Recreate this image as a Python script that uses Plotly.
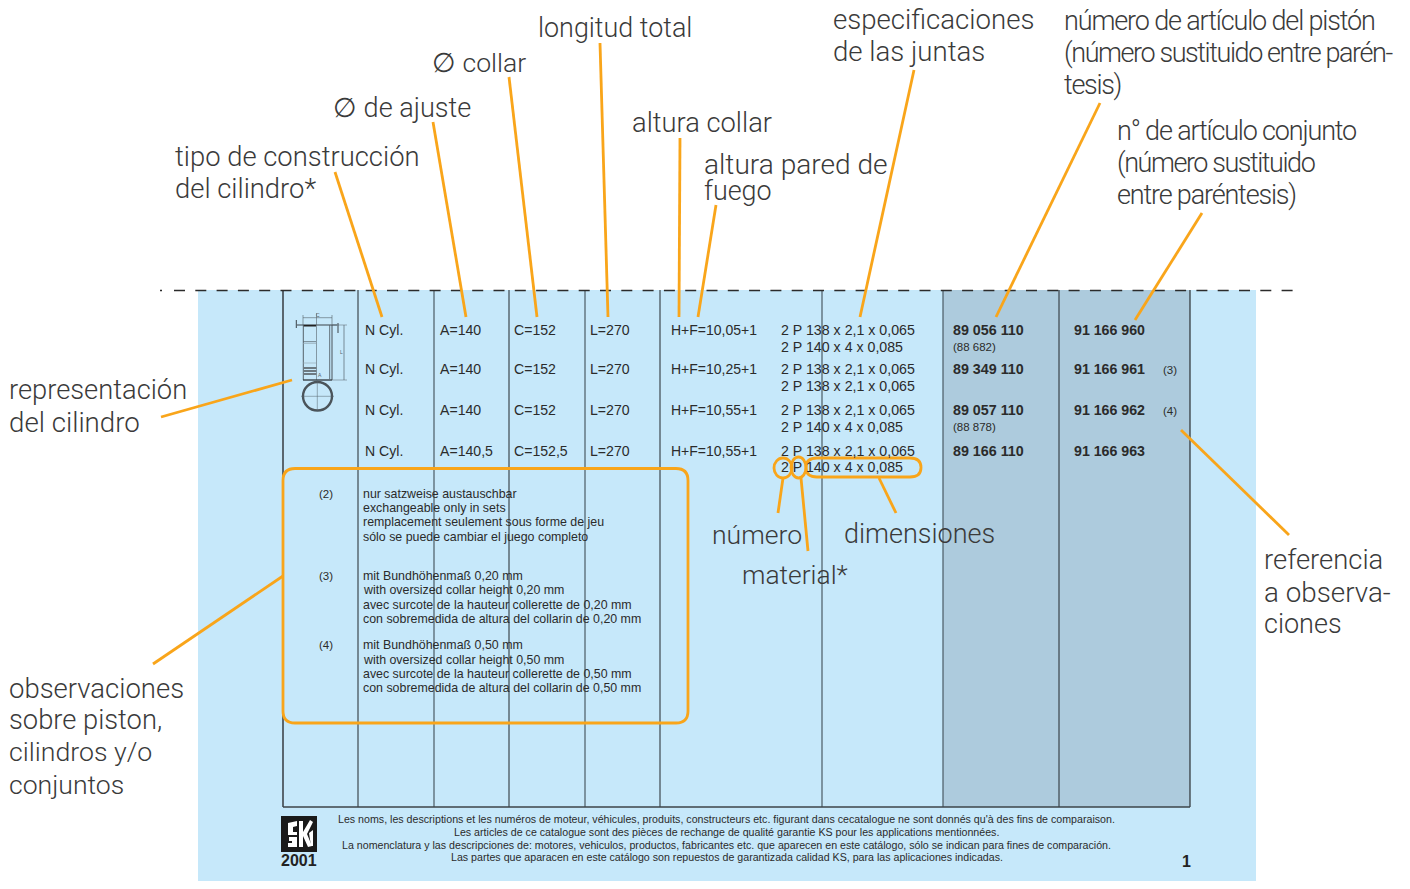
import plotly.graph_objects as go

# ---------- data ----------
cyl_type = ["N Cyl.", "N Cyl.", "N Cyl.", "N Cyl."]
adjust_d = ["A=140", "A=140", "A=140", "A=140,5"]
collar_d = ["C=152", "C=152", "C=152", "C=152,5"]
total_len = ["L=270", "L=270", "L=270", "L=270"]
heights = ["H+F=10,05+1", "H+F=10,25+1", "H+F=10,55+1", "H+F=10,55+1"]
seal_1 = ["2 P 138 x 2,1 x 0,065"] * 4
seal_2 = ["2 P 140 x 4 x 0,085", "2 P 138 x 2,1 x 0,065", "2 P 140 x 4 x 0,085", "2 P 140 x 4 x 0,085"]
piston_no = ["89 056 110", "89 349 110", "89 057 110", "89 166 110"]
piston_old = ["(88 682)", "", "(88 878)", ""]
set_no = ["91 166 960", "91 166 961", "91 166 962", "91 166 963"]
remark_ref = ["", "(3)", "(4)", ""]

note_marks = ["(2)", "(3)", "(4)"]
note_2 = ["nur satzweise austauschbar", "exchangeable only in sets",
          "remplacement seulement sous forme de jeu", "sólo se puede cambiar el juego completo"]
note_3 = ["mit Bundhöhenmaß 0,20 mm", "with oversized collar height 0,20 mm",
          "avec surcote de la hauteur collerette de 0,20 mm", "con sobremedida de altura del collarin de 0,20 mm"]
note_4 = ["mit Bundhöhenmaß 0,50 mm", "with oversized collar height 0,50 mm",
          "avec surcote de la hauteur collerette de 0,50 mm", "con sobremedida de altura del collarin de 0,50 mm"]
footer = [
    "Les noms, les descriptions et les numéros de moteur, véhicules, produits, constructeurs etc. figurant dans cecatalogue ne sont donnés qu'à des fins de comparaison.",
    "Les articles de ce catalogue sont des pièces de rechange de qualité garantie KS pour les applications mentionnées.",
    "La nomenclatura y las descripciones de: motores, vehiculos, productos, fabricantes etc. que aparecen en este catálogo, sólo se indican para fines de comparación.",
    "Las partes que aparacen en este catálogo son repuestos de garantizada calidad KS, para las aplicaciones indicadas.",
]
callout_text = [
    "tipo de construcción", "del cilindro*", "∅ de ajuste", "∅ collar", "longitud total",
    "altura collar", "altura pared de", "fuego", "especificaciones", "de las juntas",
    "número de artículo del pistón", "(número sustituido entre parén-", "tesis)",
    "n° de artículo conjunto", "(número sustituido", "entre paréntesis)",
    "representación", "del cilindro", "número", "material*", "dimensiones",
    "referencia", "a observa-", "ciones", "observaciones", "sobre piston,", "cilindros y/o", "conjuntos",
]

# ---------- layout of the labels and leaders (page pixels) ----------
callout_place = [
    (175, 157, 27.4), (175, 189, 27.4), (333, 108, 27.1), (432, 62, 26.6), (538, 28, 26.9),
    (632, 123, 27.3), (704, 164, 28.1), (704, 191, 26.9), (833, 19, 27.6), (833, 51, 27.6),
    (1064, 21, 27), (1064, 53, 27), (1064, 85, 27),
    (1117, 131, 27), (1117, 163, 27), (1117, 195, 27),
    (9, 390, 27.3), (9, 422, 27.7), (712, 534, 26.6), (742, 575, 26.4), (844, 534, 27),
    (1264, 560, 27.4), (1264, 592, 27.8), (1264, 624, 27), (9, 688, 27.5), (9, 720, 27.3),
    (9, 752, 26.7), (9, 784, 26.6),
]
tracking = {
    "número de artículo del pistón": -1.14, "(número sustituido entre parén-": -1.42, "tesis)": -1.3,
    "n° de artículo conjunto": -1.17, "(número sustituido": -1.45, "entre paréntesis)": -1.17,
}
leaders = [
    (335, 172, 382, 317), (433, 122, 466, 317), (509, 77, 537, 317), (600, 43, 608, 317),
    (680, 138, 679, 317), (716, 205, 698, 317), (914, 70, 860, 317), (1100, 103, 996, 317),
    (1202, 213, 1135, 320), (161, 417, 292, 380), (153, 664, 283, 576), (778, 513, 783, 478),
    (808, 551, 801, 478), (896, 513, 879, 478), (1289, 535, 1181, 430),
]

# ---------- styling ----------
ORANGE = "#f9a51a"
INK = "#2b2b2b"
LABEL = "#3a3a3a"
SANS = "Liberation Sans"
LIGHT = "Roboto"
OW = 2.8

shapes, ann = [], []

def line(x0, y0, x1, y1, color=INK, width=1.0, dash=None):
    shapes.append(dict(type="line", x0=x0, y0=y0, x1=x1, y1=y1, xref="x", yref="y", layer="above",
                       line=dict(color=color, width=width, dash=dash or "solid")))

def rect(x0, y0, x1, y1, fill, layer="below"):
    shapes.append(dict(type="rect", x0=x0, y0=y0, x1=x1, y1=y1, xref="x", yref="y", layer=layer,
                       fillcolor=fill, line=dict(color=fill, width=0)))

def oval(x0, y0, x1, y1, color, width):
    shapes.append(dict(type="circle", x0=x0, y0=y0, x1=x1, y1=y1, xref="x", yref="y", layer="above",
                       line=dict(color=color, width=width)))

def poly(path, fill):
    shapes.append(dict(type="path", path=path, xref="x", yref="y", layer="above",
                       fillcolor=fill, line=dict(color=fill, width=0)))

def text(s, x, y, size, color=INK, family=SANS, bold=False, anchor="left", weight=None):
    if not s:
        return
    ann.append(dict(text=s, x=x, y=y, xref="x", yref="y", xanchor=anchor, yanchor="middle", showarrow=False,
                    borderpad=0, borderwidth=0, align=anchor,
                    font=dict(family=family, size=size, color=color,
                              weight=weight if weight else (700 if bold else 400))))

# backgrounds
rect(198, 290, 1256, 881, "#c6e8fa")
rect(943, 290, 1190, 807, "#adcbdd")

# table rules
for x, c, w in [(283, "#2b2f33", 1.4), (358, "#22282c", 1), (434, "#4a5a64", 1.2), (509, "#22282c", 1),
                (585, "#4a5a64", 1.2), (660, "#22282c", 1), (822, "#4a5a64", 1.2), (943, "#4a5a64", 1.2),
                (1059, "#22282c", 1), (1190, "#2b2f33", 1.2)]:
    line(x, 290, x, 807, c, w)
line(283, 807, 1190, 807, "#3c4449", 1.3)
line(160, 290.5, 162, 290.5, "#2b2b2b", 1.4)
line(174, 290.5, 1296, 290.5, "#2b2b2b", 1.4, "11px,10.3px")

# cylinder sketch
G = "#55626a"
D = "#3a4248"
line(297, 325, 337, 325, D, 1)
line(303, 325.7, 316, 325.7, "#222", 1.6)
line(303, 317.7, 332, 317.7, G, .6)
line(303, 315, 303, 325, G, .6)
line(332, 315, 332, 325, G, .6)
line(303.3, 325, 303.3, 380, G, 1)
line(316.5, 313, 316.5, 380, G, .6)
line(329.7, 325, 329.7, 379, G, .9)
line(332, 325, 332, 380, D, .9)
line(303, 380, 332, 380, D, 1.4)
line(303, 341.7, 316, 341.7, G, .8)
line(303, 343.5, 316, 343.5, "#8fa3ae", .6)
line(303, 363, 316, 363, "#8fa3ae", .6)
rect(303.5, 367, 316.5, 369, "#6d7a82", "above")
rect(303.5, 370, 316.5, 372, "#6d7a82", "above")
rect(303.5, 373, 316.5, 375, "#6d7a82", "above")
line(344, 325, 344, 380, G, .7)
line(332, 325, 347, 325, G, .5)
line(332, 380, 347, 380, G, .5)
line(296.3, 320, 296.3, 328, D, 1)
line(338, 323, 338, 333, D, 1)
oval(303, 382, 332, 410.5, "#4b545a", 2.4)
line(301, 396.3, 334, 396.3, G, .5)
line(317.3, 380, 317.3, 411, G, .5)
text("C", 317.5, 315, 5, G, anchor="center")
text("L", 341, 352, 5, G, anchor="center")
text("A", 320, 375, 5, G, anchor="center")

# rows
row_y = [(330, 346.5), (369, 385.5), (410, 426.5), (451, 467)]
for i, (y1, y2) in enumerate(row_y):
    text(cyl_type[i], 365, y1, 14.1)
    text(adjust_d[i], 439.5, y1, 14.1)
    text(collar_d[i], 514, y1, 14.1)
    text(total_len[i], 590, y1, 14.1)
    text(heights[i], 670.5, y1, 14)
    text(seal_1[i], 780.5, y1, 14.2)
    text(seal_2[i], 780.5, y2, 14.2)
    text(piston_no[i], 953, y1, 14.3, bold=True)
    text(piston_old[i], 953, y2, 11.5)
    text(set_no[i], 1073.5, y1, 14.2, bold=True)
    text(remark_ref[i], 1163, y1 + 1, 11.5)

# notes
for mark, lines_, ys in [(note_marks[0], note_2, (494, 508, 522, 537)),
                         (note_marks[1], note_3, (576, 590, 604.5, 619)),
                         (note_marks[2], note_4, (645, 659.5, 674, 688))]:
    text(mark, 319, ys[0], 11.5)
    for t, y in zip(lines_, ys):
        text(t, 363, y, 12.4)

# footer
for t, y in zip(footer, (819, 832, 845, 857)):
    text(t, 726.5, y, 10.65, anchor="center")

# KS mark
rect(281, 816, 317, 852, "#1a1a1a", "above")
W = "#ffffff"
poly("M 288 823 L 297 821 L 297 826 L 293 827 L 293 832 L 297 832 L 297 835 L 288 835 Z", W)
poly("M 289 837 L 297 837 L 297 847 L 288 847 L 288 843 L 292 843 L 292 841 L 289 841 Z", W)
poly("M 299 821 L 303 821 L 303 847 L 299 847 Z", W)
poly("M 303 832 L 310 820 L 313 822 L 307 834 L 312 846 L 308 847 L 303 836 Z", W)
poly("M 309 833 L 313 830 L 313 846 L 311 846 Z", W)
text("2001", 281, 860, 16, "#222", bold=True)
text("1", 1186.5, 861, 16, "#222", bold=True, anchor="center")

# orange marks
shapes.append(dict(type="path", xref="x", yref="y", layer="above", line=dict(color=ORANGE, width=OW),
                   path="M 295 468.5 L 676 468.5 Q 688 468.5 688 480.5 L 688 711 Q 688 723 676 723 "
                        "L 295 723 Q 283 723 283 711 L 283 480.5 Q 283 468.5 295 468.5 Z"))
oval(774, 458, 792, 478, ORANGE, OW)
oval(791, 457, 806, 478, ORANGE, OW)
shapes.append(dict(type="path", xref="x", yref="y", layer="above", line=dict(color=ORANGE, width=OW),
                   path="M 817 458 L 910 458 Q 921 458 921 467.5 Q 921 477 910 477 L 817 477 "
                        "Q 806 477 806 467.5 Q 806 458 817 458 Z"))
for x0, y0, x1, y1 in leaders:
    line(x0, y0, x1, y1, ORANGE, OW)

# callout labels
for t, (x, y, size) in zip(callout_text, callout_place):
    text(t, x, y, size, LABEL, family=LIGHT, weight=300)

fig = go.Figure(go.Scatter(x=[], y=[]))
fig.update_layout(
    width=1410, height=889, margin=dict(l=0, r=0, t=0, b=0), paper_bgcolor="white", plot_bgcolor="white",
    showlegend=False, shapes=shapes, annotations=ann,
    xaxis=dict(range=[0, 1410], visible=False, fixedrange=True),
    yaxis=dict(range=[889, 0], visible=False, fixedrange=True),
)

track_js = "var T={" + ",".join(f'"{k}":{v}' for k, v in tracking.items()) + "};"
post = ("document.body.style.margin='0';document.body.style.overflow='hidden';" + track_js +
        "function ap(){document.querySelectorAll('.annotation-text').forEach(function(e){"
        "var v=T[e.textContent];if(v!==undefined){e.style.letterSpacing=v+'px';}});}"
        "ap();setTimeout(ap,50);setTimeout(ap,300);")
fig.write_html("out.html", config=dict(displayModeBar=False), post_script=post)
